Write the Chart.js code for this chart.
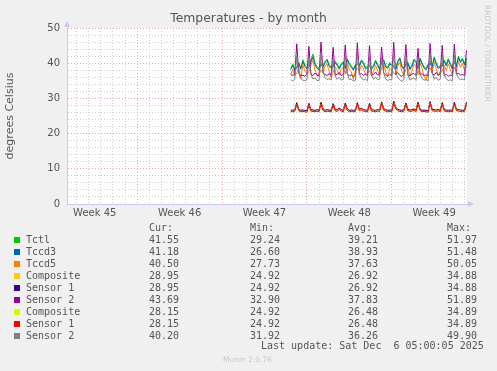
<!DOCTYPE html>
<html lang="en">
<head>
<meta charset="UTF-8">
<title>Temperatures - by month</title>
<script src="https://cdn.jsdelivr.net/npm/chart.js"></script>
<style>
  body { margin: 0; background: #f0f0f0; }
  #wrap { position: relative; width: 497px; height: 371px; font-family: "DejaVu Sans", sans-serif; color: #555; overflow: hidden; }
  canvas { position: absolute; left: 0; top: 0; }
  .t { position: absolute; white-space: pre; }
  .mono { font-family: "DejaVu Sans Mono", monospace; font-size: 10px; line-height: 12px; }
  .sq { position: absolute; width: 6px; height: 6px; }
</style>
</head>
<body>
<div id="wrap">
  <canvas id="tempChart" width="497" height="371"></canvas>
  <div class="t" style="left:0; width:497px; top:11px; text-align:center; font-size:12.4px; line-height:14px;">Temperatures - by month</div>
  <div class="t" style="left:483px; top:5px; writing-mode:vertical-rl; font-size:7.5px; color:#c8c8c8;">RRDTOOL / TOBI OETIKER</div>
  <div class="t" style="left:223px; top:355px; font-size:7.5px; color:#c8c8c8;">Munin 2.0.76</div>
</div>

<script>
// legend / stats table
const seriesNames = ['Tctl', 'Tccd3', 'Tccd5', 'Composite', 'Sensor 1', 'Sensor 2', 'Composite', 'Sensor 1', 'Sensor 2'];
const seriesColors = ['#00cc00', '#0066b3', '#ff8000', '#ffcc00', '#330099', '#990099', '#ccff00', '#ff0000', '#808080'];
const curValues = ['41.55', '41.18', '40.50', '28.95', '28.95', '43.69', '28.15', '28.15', '40.20'];
const minValues = ['29.24', '26.60', '27.73', '24.92', '24.92', '32.90', '24.92', '24.92', '31.92'];
const avgValues = ['39.21', '38.93', '37.63', '26.92', '26.92', '37.83', '26.48', '26.48', '36.26'];
const maxValues = ['51.97', '51.48', '50.05', '34.88', '34.88', '51.89', '34.89', '34.89', '49.90'];
const lastUpdate = 'Last update: Sat Dec  6 05:00:05 2025';

// axes (x in days since Sun Nov 2, 00:00)
const weekLabels = ['Week 45', 'Week 46', 'Week 47', 'Week 48', 'Week 49'];
const weekCenters = [3.5, 10.5, 17.5, 24.5, 31.5];
const yTickLabels = [0, 10, 20, 30, 40, 50];

// samples every 4 hours, first one at day 19 16:00
const START_DAY = 19 + 16 / 24;
const STEP_DAY = 4 / 24;

const tctl = [
  38.5, 39.8, 38.2,
  39.0, 40.2, 38.6, 41.0, 39.5, 38.8,
  39.4, 40.8, 42.6, 40.1, 39.0, 38.5,
  40.0, 39.2, 40.5, 41.2, 39.6, 38.9,
  39.3, 40.6, 39.8, 38.7, 39.9, 40.4,
  38.9, 41.3, 40.0, 39.2, 38.4, 39.6,
  40.2, 39.5, 41.0, 40.3, 38.8, 39.1,
  39.6, 38.7, 39.4, 40.9, 39.7, 38.6,
  40.5, 41.1, 39.3, 38.9, 40.2, 39.8,
  39.2, 38.5, 40.7, 41.6, 39.4, 38.7,
  39.9, 40.3, 38.6, 39.5, 41.2, 40.6,
  38.8, 41.5, 40.1, 39.0, 38.5, 39.7,
  40.4, 39.1, 41.8, 40.2, 38.9, 39.3,
  39.5, 40.9, 39.6, 41.3, 40.0, 38.8,
  40.7, 39.4, 42.0, 40.6, 41.4, 39.9,
  41.55
];
const tccd3 = [
  38.2, 39.4, 37.9,
  38.7, 39.8, 38.3, 40.5, 39.1, 38.4,
  39.0, 40.3, 41.8, 39.6, 38.6, 38.1,
  39.6, 38.8, 40.1, 40.8, 39.2, 38.5,
  38.9, 40.2, 39.4, 38.3, 39.5, 40.0,
  38.5, 40.9, 39.6, 38.8, 38.0, 39.2,
  39.8, 39.1, 40.6, 39.9, 38.4, 38.7,
  39.2, 38.3, 39.0, 40.5, 39.3, 38.2,
  40.1, 40.7, 38.9, 38.5, 39.8, 39.4,
  38.8, 38.1, 40.3, 41.2, 39.0, 38.3,
  39.5, 39.9, 38.2, 39.1, 40.8, 40.2,
  38.4, 41.1, 39.7, 38.6, 38.1, 39.3,
  40.0, 38.7, 41.4, 39.8, 38.5, 38.9,
  39.1, 40.5, 39.2, 40.9, 39.6, 38.4,
  40.3, 39.0, 41.6, 40.2, 41.0, 39.5,
  41.18
];
const tccd5 = [
  36.8, 38.3, 36.4,
  37.2, 38.9, 35.6, 39.6, 37.8, 36.9,
  37.5, 39.4, 41.0, 38.2, 36.5, 36.8,
  38.1, 37.3, 39.2, 39.8, 37.7, 35.9,
  37.4, 38.9, 38.0, 36.6, 38.3, 38.9,
  36.9, 39.9, 38.3, 37.5, 35.4, 37.9,
  38.5, 37.8, 39.5, 38.6, 36.7, 37.3,
  37.8, 36.5, 37.7, 39.4, 38.0, 36.4,
  38.8, 39.6, 37.5, 36.2, 38.6, 38.1,
  37.3, 36.6, 39.1, 40.3, 37.6, 36.5,
  38.1, 38.7, 36.4, 37.8, 39.7, 38.9,
  36.7, 40.1, 38.5, 36.3, 35.2, 37.9,
  38.7, 37.2, 40.4, 38.4, 36.6, 37.5,
  37.7, 39.3, 37.9, 39.8, 38.2, 36.7,
  38.9, 37.6, 40.6, 38.8, 39.9, 38.0,
  40.50
];
// first NVMe: Composite and Sensor 1 read the same
const nvme0Sensor1 = [
  26.7, 26.6, 26.8,
  28.8, 26.9, 26.6, 26.7, 26.6, 26.5,
  28.6, 26.8, 26.7, 26.6, 26.8, 26.6,
  28.9, 27.0, 26.6, 26.8, 26.7, 26.6,
  28.5, 26.9, 26.7, 27.3, 26.8, 26.6,
  28.7, 27.0, 26.6, 26.7, 26.6, 26.7,
  28.8, 26.9, 27.2, 26.8, 26.7, 26.6,
  28.6, 26.8, 26.7, 26.6, 26.8, 26.7,
  29.0, 27.1, 26.8, 26.6, 26.7, 26.6,
  29.2, 27.4, 26.9, 26.7, 26.6, 26.8,
  28.7, 26.9, 26.7, 26.8, 27.0, 26.7,
  28.9, 27.0, 26.6, 26.7, 26.6, 26.5,
  29.1, 26.9, 26.8, 26.7, 26.9, 26.6,
  28.8, 26.8, 26.7, 26.6, 26.7, 26.6,
  28.9, 27.0, 26.8, 26.7, 26.6, 26.7,
  28.95
];
const nvme0Sensor2 = [
  36.8, 36.5, 36.9,
  45.5, 37.0, 36.4, 36.6, 36.3, 36.8,
  44.8, 36.9, 36.5, 37.2, 36.6, 36.4,
  46.0, 37.3, 36.8, 36.5, 37.0, 36.7,
  44.5, 36.6, 36.9, 37.4, 36.5, 36.8,
  45.2, 37.0, 36.4, 36.7, 36.2, 36.6,
  45.8, 36.8, 37.1, 36.5, 36.9, 36.4,
  45.0, 36.5, 36.8, 37.5, 36.6, 36.9,
  44.6, 37.2, 36.7, 36.4, 36.8, 36.5,
  45.9, 36.9, 37.3, 36.6, 36.2, 36.8,
  45.3, 36.6, 36.4, 36.9, 37.1, 36.5,
  44.2, 36.8, 37.0, 36.5, 36.7, 36.3,
  45.6, 37.1, 36.6, 37.4, 36.5, 36.9,
  45.1, 36.5, 36.8, 36.3, 36.6, 36.4,
  45.4, 36.9, 37.2, 36.6, 36.8, 36.5,
  43.69
];
// second NVMe: Composite and Sensor 1 read the same
const nvme1Sensor1 = [
  26.3, 26.2, 26.4,
  28.2, 26.5, 26.2, 26.3, 26.2, 26.1,
  28.0, 26.4, 26.3, 26.2, 26.4, 26.2,
  28.4, 26.6, 26.2, 26.4, 26.3, 26.2,
  27.9, 26.5, 26.3, 26.9, 26.4, 26.2,
  28.1, 26.6, 26.2, 26.3, 26.2, 26.3,
  28.3, 26.5, 26.8, 26.4, 26.3, 26.2,
  28.0, 26.4, 26.3, 26.2, 26.4, 26.3,
  28.5, 26.7, 26.4, 26.2, 26.3, 26.2,
  28.7, 27.0, 26.5, 26.3, 26.2, 26.4,
  28.2, 26.5, 26.3, 26.4, 26.6, 26.3,
  28.4, 26.6, 26.2, 26.3, 26.2, 26.1,
  28.6, 26.5, 26.4, 26.3, 26.5, 26.2,
  28.3, 26.4, 26.3, 26.2, 26.3, 26.2,
  28.4, 26.6, 26.4, 26.3, 26.2, 26.3,
  28.15
];
const nvme1Sensor2 = [
  35.3, 35.0, 35.4,
  42.0, 37.2, 35.6, 35.2, 35.0, 35.3,
  41.5, 36.8, 35.5, 35.8, 35.1, 35.0,
  43.0, 37.5, 35.9, 35.3, 35.6, 35.2,
  41.2, 36.5, 35.4, 36.0, 35.2, 35.4,
  42.3, 37.0, 35.3, 35.5, 34.9, 35.1,
  42.8, 36.9, 35.8, 35.2, 35.5, 35.0,
  41.8, 36.6, 35.4, 36.1, 35.3, 35.6,
  41.6, 37.3, 35.5, 35.1, 35.4, 35.2,
  42.9, 37.1, 36.0, 35.3, 34.8, 35.4,
  42.2, 36.7, 35.2, 35.6, 35.8, 35.1,
  41.0, 36.9, 35.7, 35.2, 35.3, 34.9,
  42.6, 37.4, 35.4, 36.0, 35.1, 35.5,
  42.0, 36.5, 35.6, 35.0, 35.3, 35.0,
  42.4, 37.0, 35.9, 35.3, 35.5, 35.2,
  40.20
];

const seriesData = [tctl, tccd3, tccd5, nvme0Sensor1, nvme0Sensor1, nvme0Sensor2, nvme1Sensor1, nvme1Sensor1, nvme1Sensor2];

const GRID_MINOR = 'rgba(190,190,190,0.75)';
const GRID_MAJOR = 'rgba(230,130,130,0.75)';
const AXIS_COLOR = '#c8c8f4';

// ---- stats table under the chart
const wrap = document.getElementById('wrap');
function addText(text, left, top, cls) {
  const d = document.createElement('div');
  d.className = 't ' + cls;
  d.textContent = text;
  d.style.left = left + 'px';
  d.style.top = top + 'px';
  wrap.appendChild(d);
  return d;
}
const colX = [149, 250, 348, 447];
['Cur:', 'Min:', 'Avg:', 'Max:'].forEach((h, j) => addText(h, colX[j], 222, 'mono'));
seriesNames.forEach((name, i) => {
  const top = 234 + i * 12;
  const sq = document.createElement('div');
  sq.className = 'sq';
  sq.style.left = '14px';
  sq.style.top = (top + 3) + 'px';
  sq.style.background = seriesColors[i];
  wrap.appendChild(sq);
  addText(name, 26, top, 'mono');
  addText(curValues[i], colX[0], top, 'mono');
  addText(minValues[i], colX[1], top, 'mono');
  addText(avgValues[i], colX[2], top, 'mono');
  addText(maxValues[i], colX[3], top, 'mono');
});
addText(lastUpdate, 261, 340, 'mono');

// ---- chart
const plotBackground = {
  id: 'plotBackground',
  beforeDraw(chart) {
    const { ctx, chartArea: a } = chart;
    ctx.save();
    ctx.fillStyle = '#ffffff';
    ctx.fillRect(a.left, a.top, a.right - a.left, a.bottom - a.top);
    ctx.restore();
  },
  afterDraw(chart) {
    const { ctx, chartArea: a } = chart;
    ctx.save();
    ctx.fillStyle = AXIS_COLOR;
    ctx.beginPath();
    ctx.moveTo(a.left - 3, a.top - 1);
    ctx.lineTo(a.left + 3, a.top - 1);
    ctx.lineTo(a.left, a.top - 7);
    ctx.closePath();
    ctx.fill();
    ctx.beginPath();
    ctx.moveTo(a.right + 1, a.bottom - 3);
    ctx.lineTo(a.right + 1, a.bottom + 3);
    ctx.lineTo(a.right + 7, a.bottom);
    ctx.closePath();
    ctx.fill();
    ctx.restore();
  }
};

const datasets = seriesNames.map((name, i) => ({
  label: name,
  data: seriesData[i].map((v, k) => ({ x: START_DAY + k * STEP_DAY, y: v })),
  borderColor: seriesColors[i],
  borderWidth: 1,
  pointRadius: 0,
  tension: 0,
  fill: false,
  order: seriesNames.length - i  // munin draws the last series on top
}));

const tickFont = { family: 'DejaVu Sans', size: 10 };

new Chart(document.getElementById('tempChart').getContext('2d'), {
  type: 'line',
  data: { datasets: datasets },
  plugins: [plotBackground],
  options: {
    responsive: false,
    animation: false,
    devicePixelRatio: 1,
    layout: { padding: { top: 28, right: 30, bottom: 0, left: 0 } },
    plugins: {
      legend: { display: false },
      title: { display: false },
      tooltip: { enabled: false }
    },
    scales: {
      x: {
        type: 'linear',
        bounds: 'data',
        min: 1.21,
        max: 34.21,
        afterBuildTicks(scale) {
          const vals = [];
          for (let d = 2; d <= 34; d++) vals.push(d);
          weekCenters.forEach(c => vals.push(c));
          vals.sort((a, b) => a - b);
          scale.ticks = vals.map(v => ({ value: v }));
        },
        afterFit(scale) { scale.height = 167; },
        ticks: {
          autoSkip: false,
          maxRotation: 0,
          padding: 3,
          color: '#555',
          font: tickFont,
          callback(v) {
            const idx = weekCenters.indexOf(v);
            return idx >= 0 ? weekLabels[idx] : '';
          }
        },
        grid: {
          drawTicks: false,
          lineWidth: 1,
          color(ctx) {
            const v = ctx.tick ? ctx.tick.value : 0;
            if (!Number.isInteger(v)) return 'rgba(0,0,0,0)';
            return v % 7 === 0 ? GRID_MAJOR : GRID_MINOR;
          }
        },
        border: { display: true, color: AXIS_COLOR, width: 1, dash: [1, 2] }
      },
      y: {
        min: 0,
        max: 50,
        afterFit(scale) { scale.width = 67; },
        ticks: {
          stepSize: 2,
          autoSkip: false,
          padding: 7,
          color: '#555',
          font: tickFont,
          callback(v) { return yTickLabels.includes(v) ? String(v) : ''; }
        },
        grid: {
          drawTicks: false,
          lineWidth: 1,
          color(ctx) {
            const v = ctx.tick ? ctx.tick.value : 0;
            return v % 10 === 0 ? GRID_MAJOR : GRID_MINOR;
          }
        },
        border: { display: true, color: AXIS_COLOR, width: 1, dash: [1, 2] },
        title: {
          display: true,
          text: 'degrees Celsius',
          color: '#555',
          font: { family: 'DejaVu Sans', size: 11 },
          padding: { top: 4, bottom: 0 }
        }
      }
    }
  }
});
</script>
</body>
</html>
